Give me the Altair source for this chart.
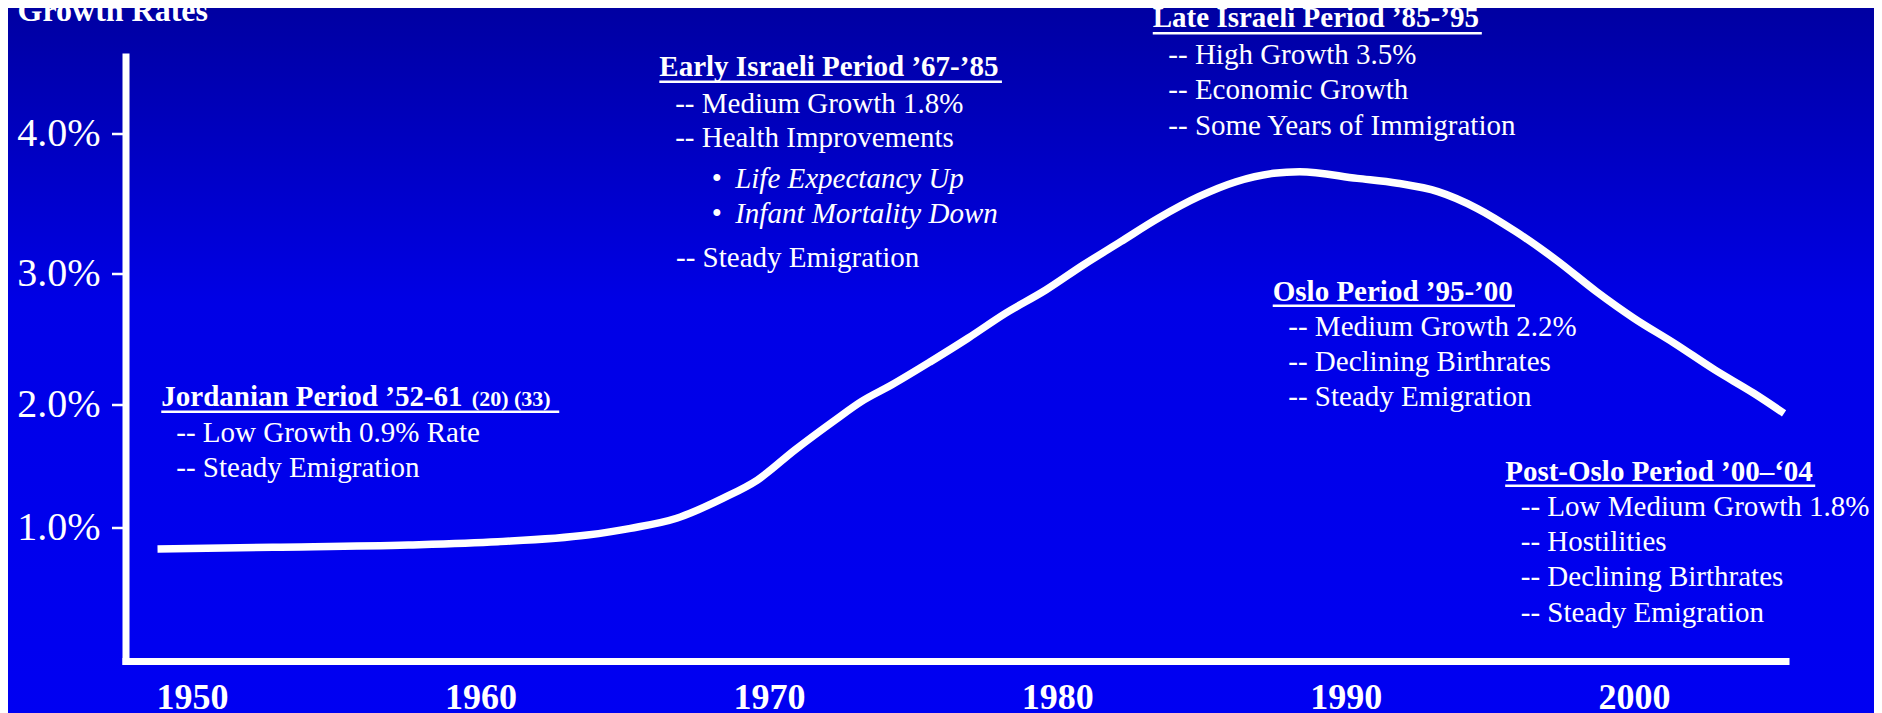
import altair as alt
import pandas as pd

# ---- curve data (year, population growth rate %) ----
years = [1948.8, 1952.8, 1957.5, 1960.6, 1963.7, 1965.2, 1966.8, 1968.4, 1969.6, 1970.9,
         1972.3, 1973.2, 1974.25, 1975.6, 1976.9, 1978.2, 1979.6, 1980.9, 1982.2, 1983.5,
         1984.9, 1986.2, 1987.5, 1988.4, 1990.4, 1991.8, 1993.2, 1994.55, 1995.9, 1997.3,
         1998.7, 2000.0, 2001.4, 2002.8, 2004.15, 2005.2]
rates = [0.836, 0.849, 0.866, 0.890, 0.940, 0.990, 1.071, 1.233, 1.382, 1.626,
         1.870, 2.018, 2.145, 2.323, 2.502, 2.692, 2.870, 3.057, 3.224, 3.391,
         3.545, 3.652, 3.712, 3.724, 3.676, 3.641, 3.581, 3.462, 3.295, 3.093,
         2.857, 2.654, 2.463, 2.260, 2.082, 1.924]

x_ticks = [1950, 1960, 1970, 1980, 1990, 2000]
y_ticks = [1, 2, 3, 4]

# ---- period headings ----
title_labels = ["Jordanian Period \u201952-61", "Early Israeli Period \u201967-\u201985",
                "Late Israeli Period \u201985-\u201995", "Oslo Period \u201995-\u201900",
                "Post-Oslo Period \u201900\u2013\u201804"]
title_years = [1948.93, 1966.20, 1983.31, 1987.47, 1995.53]
title_rates = [1.984, 4.407, 4.755, 2.789, 1.376]
underline_end = [1962.73, 1978.08, 1994.72, 1995.87, 2006.28]
underline_rates = [1.937, 4.366, 4.712, 2.750, 1.336]

note_labels = ["(20) (33)"]
note_years = [1959.70]
note_rates = [1.984]

body_labels = ["-- Low Growth 0.9% Rate", "-- Steady Emigration",
               "-- Medium Growth 1.8%", "-- Health Improvements", "-- Steady Emigration",
               "-- High Growth 3.5%", "-- Economic Growth", "-- Some Years of Immigration",
               "-- Medium Growth 2.2%", "-- Declining Birthrates", "-- Steady Emigration",
               "-- Low Medium Growth 1.8%", "-- Hostilities", "-- Declining Birthrates",
               "-- Steady Emigration"]
body_years = [1949.45, 1949.45,
              1966.75, 1966.75, 1966.78,
              1983.85, 1983.85, 1983.85,
              1988.01, 1988.01, 1988.01,
              1996.07, 1996.07, 1996.07, 1996.07]
body_rates = [1.693, 1.407,
              4.145, 3.898, 3.045,
              4.493, 4.241, 3.986,
              2.519, 2.252, 1.984,
              1.089, 0.821, 0.560, 0.293]

bullet_labels = ["\u2022", "\u2022"]
bullet_years = [1968.02, 1968.02]
italic_labels = ["Life Expectancy Up", "Infant Mortality Down"]
italic_years = [1968.83, 1968.83]
italic_rates = [3.605, 3.355]

# ---- layout ----
W, H = 1660, 604.5
PL, PT, PR, PB = 117.5, 48.5, 88.5, 52
FONT = "Liberation Serif"
WHITE = "#FFFFFF"

x_scale = alt.Scale(domain=[1947.69, 2005.25], nice=False, zero=False)
# the slide's value axis is drawn with uneven spacing: piecewise-linear scale
y_scale = alt.Scale(domain=[0, 1, 2, 3, 4, 4.546],
                    range=[604.5, 470.5, 347.5, 216.5, 76.5, 0],
                    nice=False, zero=False)

x_axis = alt.Axis(values=x_ticks, format="d", title=None, grid=False,
                  labelFont=FONT, labelFontSize=36, labelFontWeight="bold",
                  labelColor=WHITE, labelBaseline="alphabetic", labelPadding=47,
                  labelFlush=False, labelOverlap=False,
                  ticks=False, tickSize=0,
                  domainColor=WHITE, domainWidth=7, domainCap="square", zindex=1)
y_axis = alt.Axis(values=y_ticks, labelExpr="format(datum.value, '.1f') + '%'",
                  grid=False, labelFont=FONT, labelFontSize=40, labelColor=WHITE,
                  labelBaseline="middle", labelPadding=11.5,
                  tickColor=WHITE, tickSize=14, tickWidth=2.5,
                  domainColor=WHITE, domainWidth=7, domainCap="square", zindex=1,
                  title="Growth Rates", titleAngle=0, titleAlign="left",
                  titleBaseline="alphabetic", titleX=-108.5, titleY=-36.5,
                  titleFont=FONT, titleFontSize=32, titleFontWeight="bold",
                  titleColor=WHITE)

X = alt.X("year:Q", scale=x_scale, axis=x_axis)
Y = alt.Y("rate:Q", scale=y_scale, axis=y_axis)

bg = alt.Chart(pd.DataFrame({"k": [0]})).mark_rect(
    color=alt.Gradient(
        gradient="linear",
        stops=[alt.GradientStop(color="#0000A2", offset=0),
               alt.GradientStop(color="#0000E6", offset=0.42),
               alt.GradientStop(color="#0000F2", offset=1)],
        x1=0, y1=0, x2=0, y2=1),
    stroke=None
).encode(x=alt.value(-PL), x2=alt.value(W + PR), y=alt.value(-PT), y2=alt.value(H + PB))

curve_df = pd.DataFrame({"year": years, "rate": rates})
curve = alt.Chart(curve_df).mark_line(
    color=WHITE, strokeWidth=7.5, interpolate="monotone", strokeCap="butt"
).encode(x=X, y=Y)

ul_df = pd.DataFrame({"year": title_years, "year2": underline_end, "rate": underline_rates})
underlines = alt.Chart(ul_df).mark_rule(color=WHITE, strokeWidth=2.5).encode(
    x=X, x2="year2:Q", y=Y)

def text_layer(labels, xs, ys, **kw):
    df = pd.DataFrame({"year": xs, "rate": ys, "label": labels})
    return alt.Chart(df).mark_text(align="left", baseline="alphabetic", font=FONT,
                                   color=WHITE, **kw).encode(x=X, y=Y, text="label:N")

titles = text_layer(title_labels, title_years, title_rates, fontSize=29, fontWeight="bold")
notes = text_layer(note_labels, note_years, note_rates, fontSize=22, fontWeight="bold")
body = text_layer(body_labels, body_years, body_rates, fontSize=29)
bullets = text_layer(bullet_labels, bullet_years, italic_rates, fontSize=29)
italics = text_layer(italic_labels, italic_years, italic_rates, fontSize=29, fontStyle="italic")

chart = alt.layer(bg, curve, underlines, titles, notes, body, bullets, italics).properties(
    width=W, height=H,
    padding={"left": PL, "top": PT, "right": PR, "bottom": PB},
    autosize=alt.AutoSizeParams(type="none"),
    background="#0000EE"
).configure_view(strokeWidth=0)

chart.save("out.html", embed_options={"renderer": "svg", "actions": False})
